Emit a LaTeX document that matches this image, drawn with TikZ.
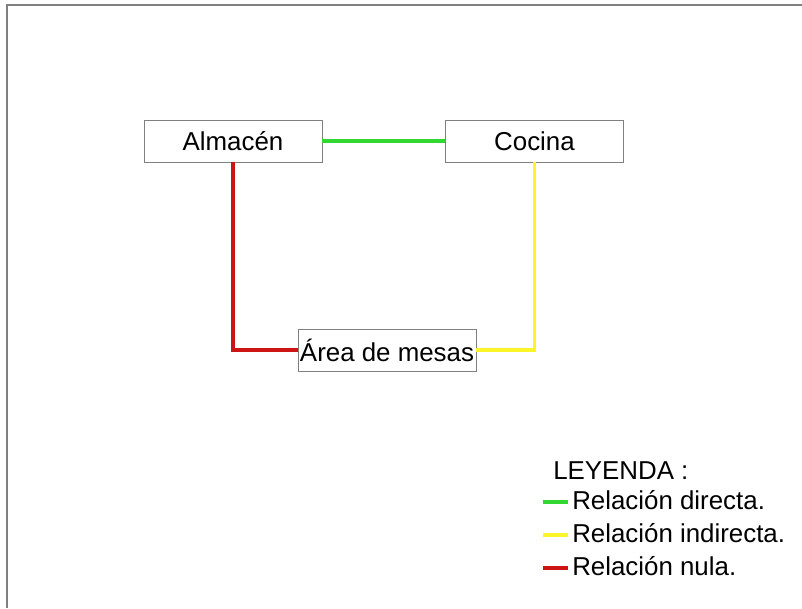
\documentclass[tikz,border=0pt]{standalone}
\usepackage{fontspec}
\setmainfont{Liberation Sans}
\usetikzlibrary{calc}

\definecolor{relgreen}{RGB}{50,215,50}
\definecolor{relyellow}{RGB}{250,245,40}
\definecolor{relred}{RGB}{205,20,20}

\begin{document}
\begin{tikzpicture}[x=0.025cm, y=-0.025cm,
    area/.style={draw=gray, line width=0.6pt, minimum width=4.45cm, minimum height=1.05cm, inner sep=0pt, font=\fontsize{18.4}{22}\selectfont},
    rel/.style={line width=2.2pt},
    legtext/.style={anchor=west, inner sep=0pt, font=\fontsize{18.4}{22}\selectfont}]
    % Fix the page size
    \useasboundingbox (0,0) rectangle (802,608);
    \draw[gray, line width=0.8pt] (7,608) -- (7,5) -- (802,5);

    % Areas of the restaurant
    \node[area] (alm) at (233,141) {Almacén};
    \node[area] (coc) at (534.5,141) {Cocina};
    \node[area] (mes) at (387,350) {Área de mesas};

    % Relations between areas
    \draw[rel, relgreen] (alm.east) -- (coc.west);
    \draw[rel, relred] (alm.south) |- (mes.west);
    \draw[rel, relyellow] (coc.south) |- (mes.east);

    % Legend
    \node[legtext] (leg) at (553,471) {LEYENDA :};
    \foreach \col/\txt/\y [count=\i] in {relgreen/Relación directa./502, relyellow/Relación indirecta./535, relred/Relación nula./568}{
        \coordinate (l\i a) at (543,\y);
        \coordinate (l\i b) at (568,\y);
        \draw[rel, \col] (l\i a) -- (l\i b);
        \node[legtext] (t\i) at ($(l\i b)+(4,-2)$) {\txt};
    }
\end{tikzpicture}
\end{document}
